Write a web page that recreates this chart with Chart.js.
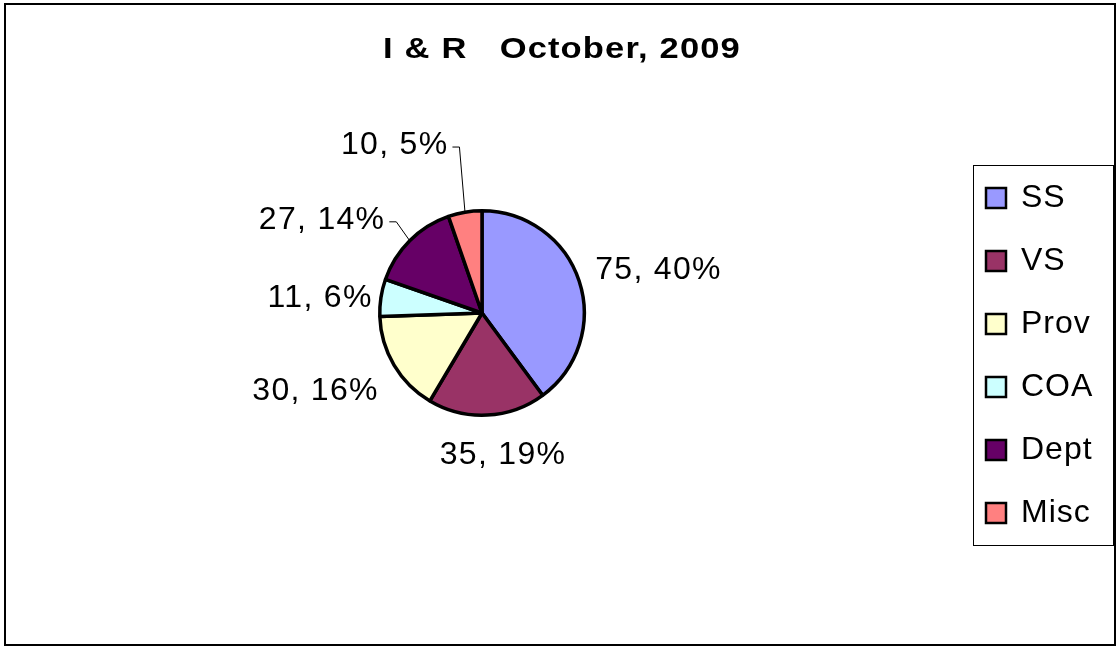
<!DOCTYPE html>
<html>
<head>
<meta charset="utf-8">
<script src="https://cdn.jsdelivr.net/npm/chart.js@4"></script>
<style>
  html, body { margin: 0; padding: 0; background: #fff; }
  #wrap { width: 1119px; height: 649px; }
</style>
</head>
<body>
<div id="wrap"><canvas id="pie" width="1119" height="649"></canvas></div>
<script>
// chart data
var titleText = "I & R   October, 2009";
var categories = ["SS", "VS", "Prov", "COA", "Dept", "Misc"];
var values = [75, 35, 30, 11, 27, 10];
var percents = [40, 19, 16, 6, 14, 5];
var sliceColors = ["#9999FF", "#993366", "#FFFFCC", "#CCFFFF", "#660066", "#FF8080"];

// label layout tweaks (excel had some labels dragged out)
var labelNudge = [[6, -3], [12, 14], [-12, 13], [5, 4], [-33, -2], [-59, -41]];
var labelFont = "32px 'Liberation Sans', Arial, sans-serif";

function txt(ctx, s, x, y, ls) {
    ctx.letterSpacing = ls + "px";
    ctx.fillText(s, x, y);
    ctx.letterSpacing = "0px";
}

var frame = {
    id: "frame",
    beforeDraw: function (chart) {
        var ctx = chart.ctx;
        ctx.save();
        ctx.fillStyle = "#fff";
        ctx.fillRect(0, 0, chart.width, chart.height);
        ctx.strokeStyle = "#000";
        ctx.lineWidth = 2;
        ctx.strokeRect(5, 4, 1110, 641);

        // title is drawn a bit stretched, like the original
        ctx.fillStyle = "#000";
        ctx.font = "bold 30px 'Liberation Sans', Arial, sans-serif";
        ctx.textAlign = "center";
        ctx.textBaseline = "middle";
        ctx.translate(562, 50);
        ctx.scale(1.15, 1);
        txt(ctx, titleText, 0, 0, 1);
        ctx.restore();
    },
    afterDraw: function (chart) {
        var ctx = chart.ctx;
        var arcs = chart.getDatasetMeta(0).data;
        ctx.save();
        ctx.font = labelFont;
        ctx.textBaseline = "middle";
        ctx.textAlign = "center";
        ctx.fillStyle = "#000";
        ctx.letterSpacing = "1.3px";
        for (var i = 0; i < arcs.length; i++) {
            var a = arcs[i].getProps(["x", "y", "startAngle", "endAngle", "outerRadius"], true);
            var mid = (a.startAngle + a.endAngle) / 2;
            var c = Math.cos(mid), s = Math.sin(mid);
            var label = values[i] + ", " + percents[i] + "%";
            var w = ctx.measureText(label).width;
            var r = a.outerRadius + 14;
            var cx = a.x + r * c + w / 2 * c + labelNudge[i][0];
            var cy = a.y + r * s + 12 * s + labelNudge[i][1];
            ctx.fillText(label, cx, cy);
            var n = labelNudge[i];
            if (Math.abs(n[0]) + Math.abs(n[1]) > 30) {
                // leader line back to the slice
                var x0 = cx + w / 2 + 4;
                ctx.beginPath();
                ctx.lineWidth = 1;
                ctx.strokeStyle = "#000";
                ctx.moveTo(x0, cy + 1.5);
                ctx.lineTo(x0 + 7, cy + 1.5);
                ctx.lineTo(a.x + a.outerRadius * c, a.y + a.outerRadius * s);
                ctx.stroke();
            }
        }
        ctx.letterSpacing = "0px";

        // legend box
        ctx.lineWidth = 1;
        ctx.strokeStyle = "#000";
        ctx.strokeRect(973.5, 165.5, 140, 380);
        ctx.textAlign = "left";
        for (var j = 0; j < categories.length; j++) {
            var y = 198 + j * 63;
            ctx.fillStyle = sliceColors[j];
            ctx.fillRect(986, y - 10, 20, 20);
            ctx.lineWidth = 2.5;
            ctx.strokeRect(986, y - 10, 20, 20);
            ctx.fillStyle = "#000";
            txt(ctx, categories[j], 1021, y, 1);
        }
        ctx.restore();
    }
};

new Chart("pie", {
    type: "pie",
    data: {
        labels: categories,
        datasets: [{
            data: values,
            backgroundColor: sliceColors,
            borderColor: "#000",
            borderWidth: 3.5,
            hoverOffset: 0
        }]
    },
    options: {
        responsive: false,
        animation: false,
        events: [],
        layout: { padding: { left: 378, right: 533, top: 209, bottom: 232 } },
        plugins: {
            legend: { display: false },
            title: { display: false },
            tooltip: { enabled: false }
        }
    },
    plugins: [frame]
});
</script>
</body>
</html>
